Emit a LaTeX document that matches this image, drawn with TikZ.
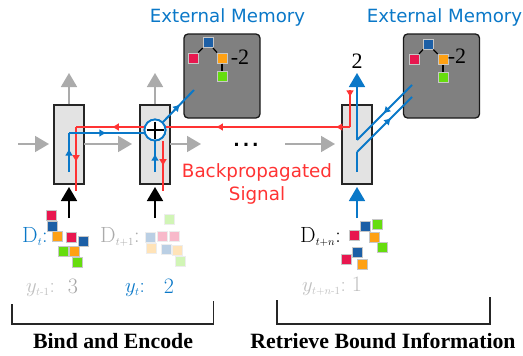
\documentclass[tikz,border=0pt]{standalone}
\usepackage{amsmath}
\usepackage{fontspec}
\newfontfamily\dv{DejaVu Sans}
\newfontfamily\lib{Liberation Serif}
\usetikzlibrary{arrows.meta,decorations.markings}
\definecolor{cblue}{HTML}{0A78C8}
\definecolor{cred}{HTML}{FF3333}
\definecolor{cgray}{HTML}{ABABAB}
\definecolor{qred}{HTML}{E8174F}
\definecolor{qblue}{HTML}{1C5FA6}
\definecolor{qorange}{HTML}{FFA114}
\definecolor{qgreen}{HTML}{66DD0E}
\tikzset{
  x=1pt,y=-1pt,
  cell/.style={draw=black!85,line width=1.5pt,fill=black!11,minimum width=30pt,minimum height=79pt,inner sep=0pt},
  mem/.style={draw=black!90,line width=1.3pt,fill=black!50,rounded corners=4pt,minimum width=76pt,minimum height=84pt,inner sep=0pt},
  sq/.style={fill=#1,draw=black!22,line width=1pt,minimum size=10pt,inner sep=0pt},
  fsq/.style={fill=#1,draw=black!7,line width=1pt,minimum size=10pt,inner sep=0pt,fill opacity=.3},
  bigarrow/.style={line width=1.8pt,-{Triangle[length=14pt,width=16pt]}},
  grayline/.style={bigarrow,cgray},
  blackline/.style={bigarrow,black},
  blueline/.style={bigarrow,cblue},
  redw/.style={cred,line width=2pt},
  bluew/.style={cblue,line width=2pt},
  mk/.style={postaction={decorate},decoration={markings,mark=at position #1 with {\arrow{Latex[length=7pt,width=8pt]}}}},
  memtxt/.style={font=\dv\fontsize{18.2}{20}\selectfont,text=cblue,inner sep=0pt},
  sigtxt/.style={font=\dv\fontsize{18.3}{23}\selectfont,text=cred,align=center,inner sep=0pt},
  numtxt/.style={font=\lib\fontsize{22}{24}\selectfont,inner sep=0pt},
  lab/.style={font=\fontsize{22}{24}\selectfont,inner sep=0pt},
  ylab/.style={font=\fontsize{21}{24}\selectfont,inner sep=0pt},
  title/.style={font=\lib\bfseries\fontsize{21.8}{24}\selectfont,inner sep=0pt},
  bracket/.style={draw=black!85,line width=1.3pt},
  treeline/.style={draw=black,line width=1.2pt},
  sum/.style={circle,draw=cblue,line width=1.8pt,fill=white,minimum size=21pt,inner sep=0pt}
}
\begin{document}
\begin{tikzpicture}
\useasboundingbox (0,0) rectangle (523,356);
% cells and memories
\node[cell] (b1) at (69,144.5) {};
\node[cell] (b2) at (155,144.5) {};
\node[cell] (b3) at (357,144.5) {};
\node[mem] (m1) at (222,76) {};
\node[mem] (m2) at (441.5,76) {};
% gray arrows
\coordinate (u1) at (69,73); \coordinate (u2) at (155,73);
\draw[grayline] (b1.north) -- (u1);
\draw[grayline] (b2.north) -- (u2);
\coordinate (i1) at (18,144); \coordinate (t1) at (49,144);
\coordinate (i2) at (84,144); \coordinate (t2) at (132,144);
\coordinate (i3) at (170,144); \coordinate (t3) at (201,144);
\coordinate (i4) at (285,144); \coordinate (t4) at (335,144);
\draw[grayline] (i1) -- (t1);
\draw[grayline] (i2) -- (t2);
\draw[grayline] (i3) -- (t3);
\draw[grayline] (i4) -- (t4);
% input arrows
\coordinate (a1) at (69,218); \coordinate (a1t) at (69,187);
\coordinate (a2) at (155,218); \coordinate (a2t) at (155,187);
\coordinate (a3) at (357,218); \coordinate (a3t) at (357,187);
\draw[blackline] (a1) -- (a1t);
\draw[blackline] (a2) -- (a2t);
\draw[blueline] (a3) -- (a3t);
% sum node
\node[sum] (s) at (155,130) {};
% red paths
\coordinate (r1a) at (76,191); \coordinate (r1b) at (76,127);
\coordinate (r2a) at (163,191);
\coordinate (r3a) at (350,127); \coordinate (r3b) at (350,90);
\coordinate (rm) at (215,127); \coordinate (rn) at (298,127);
\draw[redw,mk=0.55] (r1b) -- (r1a);
\draw[redw,mk=0.47] (s.west |- r1b) -- (r1b);
\draw[redw,mk=0.5] (r2a |- s.south) -- (r2a);
\draw[redw,mk=0.73] (r3a) -- (s.east |- r3a);
\draw[redw,mk=0.28] (r3a) -- (rn);
\draw[redw,mk=0.2] (r3b) -- (r3a);
% blue paths
\coordinate (c1a) at (69,172); \coordinate (c1b) at (69,133);
\coordinate (c2a) at (155,172);
\coordinate (mt) at (194,90);
\coordinate (d1) at (357,172); \coordinate (d2) at (357,152); \coordinate (d3) at (357,140);
\coordinate (e1) at (412,97); \coordinate (e2) at (412,85); \coordinate (dt) at (357,73);
\draw[bluew,mk=0.6] (c1a) -- (c1b);
\draw[bluew,mk=0.5] (c1b) -- (s.west |- c1b);
\draw[bluew,mk=0.6] (c2a) -- (s.south);
\draw[bluew,mk=0.55] (s.north east) -- (mt);
\draw[bluew] (d1) -- (d2);
\draw[bluew,mk=0.62] (d2) -- (e1);
\draw[bluew,mk=0.52] (e2) -- (d3);
\draw[blueline] (d3) -- (dt);
% plus in sum
\node[sum] (s2) at (s) {};
\coordinate (pl) at (146.5,130); \coordinate (pr) at (163.5,130);
\coordinate (pt) at (155,121.5); \coordinate (pb) at (155,138.5);
\draw[black,line width=1.9pt] (pl) -- (pr);
\draw[black,line width=1.9pt] (pt) -- (pb);
% dots
\node[font=\dv\fontsize{17}{20}\selectfont\bfseries,inner sep=0pt] (dots) at (246,145) {.\,.\,.};
% memory 1 tree
\node[sq=qblue] (ma) at (208,42.5) {};
\node[sq=qred] (mb) at (193,58) {};
\node[sq=qorange] (mc) at (222,58) {};
\node[sq=qgreen] (md) at (222,76) {};
\draw[treeline] (ma) -- (mb);
\draw[treeline] (ma) -- (mc);
\draw[treeline] (mc) -- (md);
\node[numtxt] (ml) at (240,57) {-2};
% memory 2 tree
\node[sq=qblue] (na) at (428,44) {};
\node[sq=qred] (nb) at (414,59.5) {};
\node[sq=qorange] (nc) at (443,59.5) {};
\node[sq=qgreen] (nd) at (443,77) {};
\draw[treeline] (na) -- (nb);
\draw[treeline] (na) -- (nc);
\draw[treeline] (nc) -- (nd);
\node[numtxt] (nl) at (457,56) {-2};
% labels
\node[memtxt] (lm1) at (227.5,17) {External Memory};
\node[memtxt] (lm2) at (444.5,17) {External Memory};
\node[sigtxt] (sig) at (257,184) {Backpropagated\\Signal};
\node[numtxt] (two) at (357,61) {2};
% D_t squares
\node[sq=qred] (q1) at (51.7,215.3) {};
\node[sq=qblue] (q2) at (52.3,226) {};
\node[sq=qorange] (q3) at (57.7,236.3) {};
\node[sq=qred] (q4) at (71.3,237) {};
\node[sq=qblue] (q5) at (83.3,241.3) {};
\node[sq=qgreen] (q6) at (63.7,251.3) {};
\node[sq=qorange] (q7) at (74.7,251.7) {};
\node[sq=qgreen] (q8) at (77.3,262.3) {};
% D_{t+1} squares
\node[fsq=qgreen] (f1) at (169.3,219.3) {};
\node[fsq=qblue] (f2) at (150.7,237) {};
\node[fsq=qred] (f3) at (162,236.3) {};
\node[fsq=qred] (f4) at (174.3,236.3) {};
\node[fsq=qorange] (f5) at (151.3,248) {};
\node[fsq=qblue] (f6) at (166.7,249.7) {};
\node[fsq=qorange] (f7) at (177.7,250.3) {};
\node[fsq=qgreen] (f8) at (180.3,261) {};
% D_{t+n} squares
\node[sq=qblue] (g1) at (365,226) {};
\node[sq=qgreen] (g2) at (377.7,224) {};
\node[sq=qred] (g3) at (354.7,235.3) {};
\node[sq=qorange] (g4) at (374.7,237.3) {};
\node[sq=qgreen] (g5) at (382.3,247.3) {};
\node[sq=qblue] (g6) at (357.7,252.3) {};
\node[sq=qred] (g7) at (346.3,259.3) {};
\node[sq=qorange] (g8) at (362.7,264) {};
% math labels
\node[lab,text=cblue,anchor=base west] (dt1) at (22,242) {$\mathrm{D}_{\scriptscriptstyle t}$:};
\node[lab,text=cgray,anchor=base west] (dt2) at (100,242) {$\mathrm{D}_{\scriptscriptstyle t+1}$:};
\node[lab,anchor=base west] (dt3) at (300,242) {$\mathrm{D}_{\scriptscriptstyle t+n}$:};
\node[ylab,text=black!25,anchor=base west] (y1) at (26,292) {$y_{\scriptscriptstyle t\text{-}1}$:};
\node[lab,text=black!35,anchor=base] (v1) at (73,293) {3};
\node[ylab,text=cblue,anchor=base west] (y2) at (125,292) {$y_{\scriptscriptstyle t}$:};
\node[lab,text=cblue,anchor=base] (v2) at (169,293) {2};
\node[ylab,text=black!25,anchor=base west] (y3) at (302,291) {$y_{\scriptscriptstyle t+n\text{-}1}$:};
\node[lab,text=black!25,anchor=base] (v3) at (357,291) {1};
% brackets
\coordinate (ba) at (12,304); \coordinate (bb) at (12,324); \coordinate (bc) at (213.5,324); \coordinate (bd) at (213.5,301);
\coordinate (ca) at (277,300); \coordinate (cb) at (277,324); \coordinate (cc) at (490,324); \coordinate (cd) at (490,297);
\draw[bracket] (ba) -- (bb) -- (bc) -- (bd);
\draw[bracket] (ca) -- (cb) -- (cc) -- (cd);
\node[title] (ttl1) at (113,341) {Bind and Encode};
\node[title] (ttl2) at (383,341) {Retrieve Bound Information};
\end{tikzpicture}
\end{document}
